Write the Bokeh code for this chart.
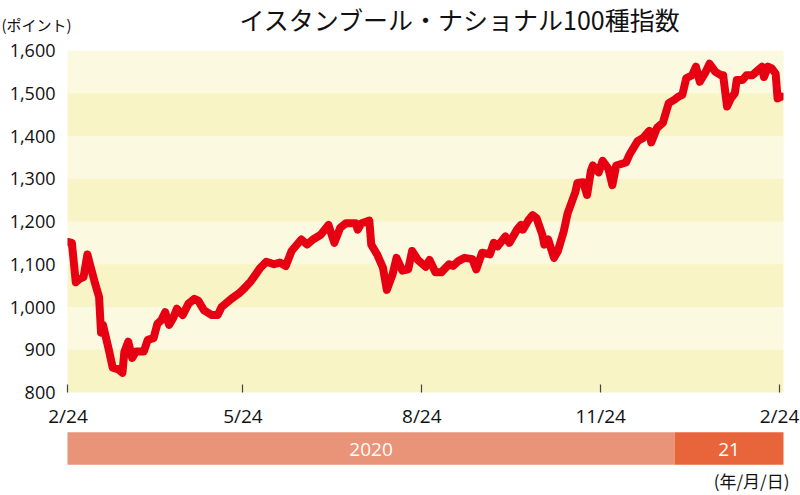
import pandas as pd
from bokeh.plotting import figure
from bokeh.layouts import column
from bokeh.models import (Range1d, FixedTicker, NumeralTickFormatter, BoxAnnotation,
                          Label, ColumnDataSource, CustomJSTickFormatter)
from bokeh.core.properties import value
from bokeh.embed import file_html
from bokeh.resources import INLINE

# ---------------- data ----------------
dates = [
    "2020-02-24", "2020-02-26", "2020-02-28", "2020-03-01", "2020-03-03", "2020-03-05",
    "2020-03-06", "2020-03-09", "2020-03-11", "2020-03-12", "2020-03-13", "2020-03-16",
    "2020-03-18", "2020-03-21", "2020-03-23", "2020-03-24", "2020-03-26", "2020-03-28",
    "2020-03-30", "2020-04-03", "2020-04-05", "2020-04-08", "2020-04-10", "2020-04-12",
    "2020-04-14", "2020-04-16", "2020-04-18", "2020-04-20", "2020-04-23", "2020-04-26",
    "2020-04-29", "2020-05-01", "2020-05-04", "2020-05-08", "2020-05-11", "2020-05-13",
    "2020-05-18", "2020-05-22", "2020-05-25", "2020-05-28", "2020-06-02", "2020-06-05",
    "2020-06-09", "2020-06-12", "2020-06-15", "2020-06-18", "2020-06-23", "2020-06-26",
    "2020-06-29", "2020-07-03", "2020-07-07", "2020-07-10", "2020-07-13", "2020-07-16",
    "2020-07-21", "2020-07-22", "2020-07-24", "2020-07-28", "2020-07-29", "2020-08-01",
    "2020-08-04", "2020-08-06", "2020-08-09", "2020-08-11", "2020-08-14", "2020-08-17",
    "2020-08-19", "2020-08-22", "2020-08-26", "2020-08-28", "2020-08-31", "2020-09-03",
    "2020-09-07", "2020-09-09", "2020-09-12", "2020-09-15", "2020-09-19", "2020-09-21",
    "2020-09-24", "2020-09-28", "2020-09-30", "2020-10-02", "2020-10-06", "2020-10-08",
    "2020-10-12", "2020-10-14", "2020-10-15", "2020-10-18", "2020-10-20", "2020-10-22",
    "2020-10-25", "2020-10-26", "2020-10-28", "2020-10-31", "2020-11-02", "2020-11-05",
    "2020-11-07", "2020-11-11", "2020-11-12", "2020-11-15", "2020-11-17", "2020-11-19",
    "2020-11-20", "2020-11-23", "2020-11-25", "2020-11-28", "2020-11-30", "2020-12-02",
    "2020-12-07", "2020-12-09", "2020-12-13", "2020-12-16", "2020-12-19", "2020-12-20",
    "2020-12-23", "2020-12-26", "2020-12-29", "2021-01-01", "2021-01-03", "2021-01-05",
    "2021-01-07", "2021-01-10", "2021-01-12", "2021-01-14", "2021-01-17", "2021-01-19",
    "2021-01-22", "2021-01-25", "2021-01-26", "2021-01-28", "2021-01-30", "2021-02-01",
    "2021-02-02", "2021-02-05", "2021-02-07", "2021-02-10", "2021-02-12", "2021-02-15",
    "2021-02-16", "2021-02-18", "2021-02-20", "2021-02-22", "2021-02-23", "2021-02-25",
]
values = [
    1152, 1150, 1058, 1066, 1070, 1123,
    1105, 1054, 1023, 940, 958, 900,
    858, 854, 846, 895, 919, 881,
    896, 896, 923, 927, 961, 969,
    988, 958, 973, 996, 981, 1008,
    1019, 1015, 992, 981, 981, 1000,
    1019, 1032, 1045, 1060, 1092, 1106,
    1100, 1104, 1096, 1131, 1158, 1146,
    1158, 1169, 1192, 1150, 1185, 1196,
    1196, 1181, 1196, 1202, 1146, 1123,
    1092, 1040, 1077, 1115, 1085, 1088,
    1131, 1110, 1094, 1110, 1081, 1081,
    1100, 1096, 1108, 1115, 1112, 1088,
    1127, 1123, 1150, 1142, 1165, 1150,
    1181, 1192, 1181, 1204, 1215, 1208,
    1169, 1146, 1158, 1115, 1131, 1177,
    1219, 1269, 1290, 1292, 1262, 1319,
    1331, 1315, 1342, 1323, 1285, 1331,
    1338, 1358, 1388, 1396, 1412, 1385,
    1419, 1431, 1477, 1485, 1492, 1496,
    1535, 1542, 1562, 1527, 1550, 1569,
    1550, 1542, 1542, 1469, 1488, 1500,
    1531, 1531, 1542, 1542, 1550, 1562,
    1538, 1562, 1558, 1546, 1488, 1492,
]

y_ticks = [800, 900, 1000, 1100, 1200, 1300, 1400, 1500, 1600]
band_lows = [800, 1000, 1200, 1400]          # darker bands
band_highs = [900, 1100, 1300, 1500]
x_tick_dates = ["2020-02-24", "2020-05-24", "2020-08-24", "2020-11-24", "2021-02-24"]
x_tick_labels = ["2/24", "5/24", "8/24", "11/24", "2/24"]

x_start = "2020-02-23 18:00"
x_end = "2021-02-26 01:00"

periods = ["2020", "21"]
period_starts = [x_start, "2021-01-01"]
period_ends = ["2021-01-01", x_end]
period_colors = ["#e99478", "#e8643a"]

title_text = "イスタンブール・ナショナル100種指数"
unit_text = "(ポイント)"
date_unit_text = "(年/月/日)"

# ---------------- helpers ----------------
def ms(d):
    return pd.Timestamp(d).value / 1e6

JP = "Noto Sans CJK JP"
NUM = "Open Sans"
LIGHT = "#fbf9e0"
DARK = "#f8f4c6"
RED = "#e60012"
INK = "#111111"

W = 800
LEFT, RIGHT = 67, 17
FRAME_W = W - LEFT - RIGHT

def bare(fig):
    fig.grid.visible = False
    fig.outline_line_color = None
    fig.background_fill_color = "white"
    fig.border_fill_color = "white"

# ---------------- header (title + unit) ----------------
HEAD_H = 37
ph = figure(width=W, height=HEAD_H, x_range=Range1d(0, W), y_range=Range1d(0, HEAD_H),
            toolbar_location=None, output_backend="svg",
            x_axis_location=None, y_axis_location=None, frame_align=False,
            min_border_left=0, min_border_right=0, min_border_top=0, min_border_bottom=0)
bare(ph)
ph.add_layout(Label(x=239, y=HEAD_H - 18.5, text=title_text, text_align="left",
                    text_baseline="middle", text_font=JP, text_font_size="25px",
                    text_color=INK))
ph.add_layout(Label(x=1, y=HEAD_H - 24, text=unit_text, text_align="left",
                    text_baseline="middle", text_font=JP, text_font_size="15px",
                    text_color=INK))

# ---------------- main chart ----------------
p = figure(width=W, height=397 - HEAD_H + 34, x_axis_type="datetime",
           x_range=Range1d(ms(x_start), ms(x_end)), y_range=Range1d(800, 1600),
           toolbar_location=None, output_backend="svg", frame_align=False,
           min_border_left=LEFT, min_border_right=RIGHT, min_border_top=50 - HEAD_H,
           min_border_bottom=34)
p.grid.visible = False
p.outline_line_color = None
p.background_fill_color = LIGHT
p.border_fill_color = "white"

for lo, hi in zip(band_lows, band_highs):
    p.add_layout(BoxAnnotation(bottom=lo, top=hi, fill_color=DARK, fill_alpha=1.0,
                               line_color=None, level="underlay"))

src = ColumnDataSource(dict(x=pd.to_datetime(dates), y=values))
p.line("x", "y", source=src, line_color=RED, line_width=8,
       line_join="round", line_cap="round")

# y axis
p.yaxis.ticker = FixedTicker(ticks=y_ticks)
p.yaxis.formatter = NumeralTickFormatter(format="0,0")
p.yaxis.axis_line_color = None
p.yaxis.major_tick_line_color = None
p.yaxis.minor_tick_line_color = None
p.yaxis.major_tick_out = 0
p.yaxis.major_tick_in = 0
p.yaxis.major_label_standoff = 12
p.yaxis.major_label_text_font = NUM
p.yaxis.major_label_text_font_size = "18px"
p.yaxis.major_label_text_color = INK

# x axis
tick_ms = [ms(d) for d in x_tick_dates]
p.xaxis.ticker = FixedTicker(ticks=tick_ms)
p.xaxis.formatter = CustomJSTickFormatter(
    args=dict(tvals=tick_ms, tlabels=x_tick_labels),
    code="""
        for (let i = 0; i < tvals.length; i++) {
            if (Math.abs(tvals[i] - tick) < 1000) { return tlabels[i]; }
        }
        return "";
    """)
p.xaxis.axis_line_color = None
p.xaxis.minor_tick_line_color = None
p.xaxis.major_tick_out = 0
p.xaxis.major_tick_in = 8
p.xaxis.major_tick_line_color = "#444444"
p.xaxis.major_tick_line_width = 1.2
p.xaxis.major_label_standoff = 10
p.xaxis.major_label_text_font = NUM
p.xaxis.major_label_text_font_size = "19px"
p.xaxis.major_label_text_color = INK

# ---------------- year bar ----------------
BAR_H = 63
mpp = (ms(x_end) - ms(x_start)) / FRAME_W          # ms per pixel of the main frame
p2 = figure(width=W, height=BAR_H, x_axis_type="datetime",
            x_range=Range1d(ms(x_start) - LEFT * mpp, ms(x_end) + RIGHT * mpp),
            y_range=Range1d(0, BAR_H), toolbar_location=None, output_backend="svg",
            x_axis_location=None, y_axis_location=None, frame_align=False,
            min_border_left=0, min_border_right=0, min_border_top=0, min_border_bottom=0)
bare(p2)

mids = [(ms(a) + ms(b)) / 2 for a, b in zip(period_starts, period_ends)]
bar_src = ColumnDataSource(dict(left=[ms(a) for a in period_starts],
                                right=[ms(b) for b in period_ends],
                                mid=mids, label=periods, color=period_colors))
p2.quad(left="left", right="right", bottom=BAR_H - 33.3, top=BAR_H - 0.7,
        fill_color="color", line_color=None, source=bar_src)
p2.text(x="mid", y=BAR_H - 17.5, text="label", source=bar_src, text_align="center",
        text_baseline="middle", text_color="white", text_font=value(NUM),
        text_font_size="19px")
p2.add_layout(Label(x=ms(x_end) + 6 * mpp, y=BAR_H - 49, text=date_unit_text,
                    text_align="right", text_baseline="middle",
                    text_font=JP, text_font_size="17px", text_color=INK))

layout = column(ph, p, p2, spacing=0)
open("out.html", "w").write(file_html(layout, INLINE))
